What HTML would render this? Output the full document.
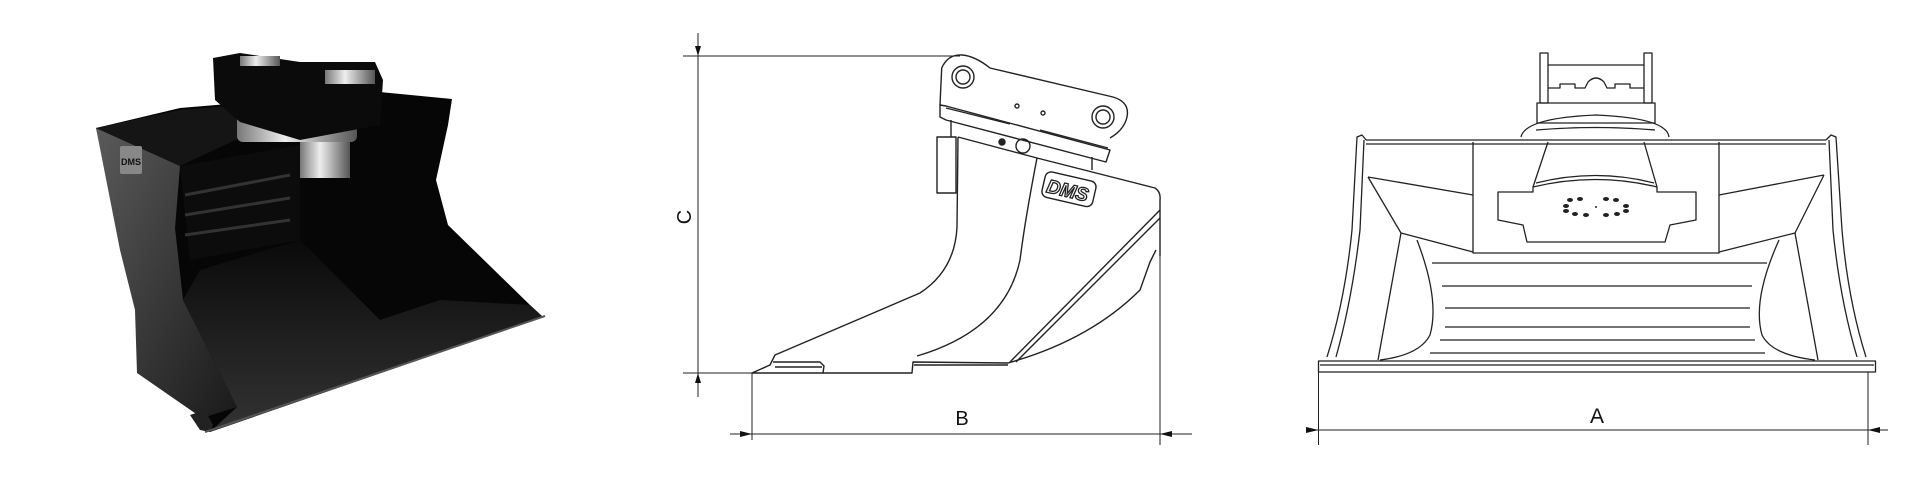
<!DOCTYPE html>
<html><head><meta charset="utf-8"><style>
html,body{margin:0;padding:0;background:#fff;width:1920px;height:500px;overflow:hidden}
svg{display:block}
text{font-family:"Liberation Sans",sans-serif}
</style></head><body>
<svg width="1920" height="500" viewBox="0 0 1920 500" xmlns="http://www.w3.org/2000/svg">
<defs>
<linearGradient id="side" x1="0" y1="0" x2="1" y2="1"><stop offset="0" stop-color="#5a5a5a"/><stop offset="1" stop-color="#1a1a1a"/></linearGradient>
<linearGradient id="silver" x1="0" y1="0" x2="1" y2="0"><stop offset="0" stop-color="#777"/><stop offset=".4" stop-color="#eee"/><stop offset="1" stop-color="#555"/></linearGradient>
<linearGradient id="floor" x1="0" y1="0" x2="0" y2="1"><stop offset="0" stop-color="#0a0a0a"/><stop offset="1" stop-color="#333"/></linearGradient>
</defs>

<!-- LEFT PHOTO -->
<g>
<polygon points="96,128 180,108 300,98 380,92 452,99 448,125 436,180 448,225 530,305 543,317 210,432 200,420 175,380 140,330 125,250" fill="#060606"/>
<polygon points="96,128 180,166 175,228 183,300 237,407 202,418 137,373 135,310 120,250" fill="url(#side)"/>
<polygon points="183,300 200,270 300,240 380,320 440,300 530,305 543,317 210,432 237,407" fill="url(#floor)"/>
<polygon points="190,415 205,410 213,425 210,432 200,430" fill="#222"/>
<polygon points="96,128 180,110 300,100 310,105 180,166" fill="#151515"/>
<polygon points="180,166 300,145 300,240 190,260" fill="#0c0c0c"/>
<line x1="185" y1="195" x2="290" y2="175" stroke="#333" stroke-width="3"/>
<line x1="185" y1="215" x2="290" y2="198" stroke="#333" stroke-width="3"/>
<line x1="185" y1="235" x2="290" y2="220" stroke="#333" stroke-width="3"/>
<line x1="545" y1="316" x2="205" y2="432" stroke="#555" stroke-width="2"/>
<rect x="300" y="138" width="50" height="40" fill="url(#silver)"/>
<rect x="237" y="110" width="120" height="32" rx="6" fill="url(#silver)"/>
<polygon points="213,58 240,53 300,62 375,62 383,80 380,125 300,140 240,122 215,100" fill="#0b0b0b"/>
<rect x="240" y="56" width="40" height="10" fill="url(#silver)"/>
<rect x="325" y="70" width="50" height="14" fill="url(#silver)"/>
<rect x="120" y="146" width="22" height="28" rx="2" fill="#888"/>
<text x="131" y="165" font-size="9" font-weight="bold" text-anchor="middle" fill="#111">DMS</text>
</g>

<!-- SIDE VIEW -->
<g fill="none" stroke="#222" stroke-width="1.4" stroke-linejoin="round">
<line x1="683" y1="56" x2="960" y2="56" stroke-width="1"/>
<line x1="683" y1="373" x2="752" y2="373" stroke-width="1"/>
<line x1="698" y1="33" x2="698" y2="397" stroke-width="1"/>
<line x1="752" y1="373" x2="752" y2="440" stroke-width="1"/>
<line x1="1160" y1="256" x2="1160" y2="445" stroke-width="1"/>
<line x1="730" y1="434" x2="1192" y2="434" stroke-width="1"/>
<path d="M940,105 L941.7,68 Q948,54 962,55 Q975,56 990,68 L1113,97 Q1130,102 1127,117 Q1124,130 1110,138"/>
<circle cx="963" cy="77" r="11"/><circle cx="963" cy="77" r="7"/>
<circle cx="1103" cy="117" r="11"/><circle cx="1103" cy="117" r="7"/>
<circle cx="1017" cy="106" r="2"/><circle cx="1043" cy="113" r="2"/>
<path d="M940,105 L940,117 L946,120 L1106,162 L1110,150 L946,106 Z"/>
<line x1="946" y1="108" x2="1010" y2="124"/>
<line x1="1040" y1="130" x2="1108" y2="148"/>
<path d="M951,120 L951,137 M1092,157 L1092,170"/>
<circle cx="1002" cy="142" r="3" fill="#222"/>
<circle cx="1023" cy="146" r="7"/>
<path d="M937,137 L956,137 L956,193 L937,193 Z"/>
<path d="M958,137 L1037,158 L1155,188 Q1161,192 1160,200 L1160,256"/>
<path d="M958,137 L957,227 Q955,270 920,293 L775,355 L770,365 L752,373 L912,373 L913,362 L1008,363 Q1090,340 1140,290 L1150,262 L1156,250"/>
<path d="M1037,158 Q1025,220 1020,260 Q1005,330 917,356"/>
<path d="M1010,362 L1160,210 M1016,362 L1160,218"/>
<path d="M773,362 L820,362 L824,366 L823,373 M775,367 L822,367"/>
<path d="M914,365 L1008,365"/>
<g transform="rotate(13 1068 189)"><rect x="1043" y="176" width="52" height="26" rx="6"/></g>
</g>
<text x="1068" y="197" font-size="19" font-weight="bold" text-anchor="middle" fill="#fff" stroke="#222" stroke-width="1.3" transform="rotate(13 1068 189)" font-style="italic">DMS</text>
<text x="962" y="425" font-size="20" text-anchor="middle" fill="#111">B</text>
<text x="0" y="0" font-size="20" text-anchor="middle" fill="#111" transform="translate(691 217) rotate(-90)">C</text>
<polygon points="698,56 695,46 701,46" fill="#111"/>
<polygon points="698,373 695,383 701,383" fill="#111"/>
<polygon points="752,434 740,431 740,437" fill="#111"/>
<polygon points="1160,434 1172,431 1172,437" fill="#111"/>

<!-- FRONT VIEW -->
<g fill="none" stroke="#222" stroke-width="1.3" stroke-linejoin="round">
<line x1="1318.5" y1="372" x2="1318.5" y2="445" stroke-width="1"/>
<line x1="1868" y1="372" x2="1868" y2="445" stroke-width="1"/>
<line x1="1306" y1="430" x2="1888" y2="430" stroke-width="1"/>
<rect x="1318.5" y="361" width="557" height="11"/>
<line x1="1320" y1="365" x2="1874" y2="365"/>
<path d="M1327,357 Q1345,300 1352,230 L1357,137 L1362,135 L1366,140"/>
<path d="M1336,357 Q1352,300 1360,230 L1364,140"/>
<path d="M1866,357 Q1848,300 1842,230 L1836,137 L1831,135 L1826,140"/>
<path d="M1857,357 Q1840,300 1833,230 L1829,140"/>
<line x1="1366" y1="140" x2="1826" y2="140"/>
<line x1="1366" y1="144" x2="1826" y2="144"/>
<rect x="1537" y="103" width="118" height="20"/>
<rect x="1540" y="53" width="8" height="50"/><rect x="1644" y="53" width="8" height="50"/>
<line x1="1548" y1="65" x2="1644" y2="65"/>
<path d="M1548,88 L1560,88 L1560,84 L1575,84 L1575,88 L1585,88 L1588,82 Q1596,74 1604,82 L1607,88 L1615,88 L1615,84 L1630,84 L1630,88 L1644,88"/>
<path d="M1521,137 Q1525,118 1596,115 Q1667,118 1669,137"/>
<path d="M1473,142 L1473,253 L1719,253 L1719,142"/>
<path d="M1548,142 L1533,187 M1657,187 L1644,142"/>
<path d="M1536,130 Q1596,125 1655,130"/>
<path d="M1498,192 L1533,192 L1533,187 Q1596,172 1657,187 L1657,192 L1696,192 L1696,220 L1670,225 L1665,242 L1527,242 L1523,225 L1498,220 Z"/>
<path d="M1536,183 Q1596,168 1654,183"/>
<path d="M1368,177 L1473,195 M1368,177 L1401,233 L1473,252"/>
<path d="M1824,175 L1719,195 M1824,175 L1795,233 L1719,252"/>
<path d="M1401,233 L1378,360 M1795,233 L1818,360"/>
<path d="M1417,240 Q1440,300 1430,335 Q1420,355 1380,360"/>
<path d="M1779,240 Q1752,300 1762,335 Q1772,355 1815,360"/>
<line x1="1432" y1="263" x2="1767" y2="263"/>
<line x1="1442" y1="286" x2="1752" y2="286"/>
<line x1="1445" y1="308" x2="1750" y2="308"/>
<line x1="1445" y1="327" x2="1750" y2="327"/>
<line x1="1440" y1="340" x2="1755" y2="340"/>
<line x1="1430" y1="353" x2="1765" y2="353"/>
</g>
<g fill="#222">
<ellipse cx="1566" cy="206" rx="3" ry="2"/><ellipse cx="1570" cy="200" rx="3" ry="2"/><ellipse cx="1580" cy="199" rx="3" ry="2"/>
<ellipse cx="1566" cy="211" rx="3" ry="2"/><ellipse cx="1575" cy="214" rx="3" ry="2"/><ellipse cx="1586" cy="215" rx="3" ry="2"/>
<ellipse cx="1606" cy="199" rx="3" ry="2"/><ellipse cx="1616" cy="200" rx="3" ry="2"/><ellipse cx="1626" cy="206" rx="3" ry="2"/>
<ellipse cx="1626" cy="211" rx="3" ry="2"/><ellipse cx="1617" cy="214" rx="3" ry="2"/><ellipse cx="1606" cy="215" rx="3" ry="2"/>
<circle cx="1596" cy="207" r="1"/>
</g>
<text x="1597" y="423" font-size="21" text-anchor="middle" fill="#111">A</text>
<polygon points="1318.5,430 1306,427 1306,433" fill="#111"/>
<polygon points="1868,430 1880,427 1880,433" fill="#111"/>
</svg>
</body></html>
